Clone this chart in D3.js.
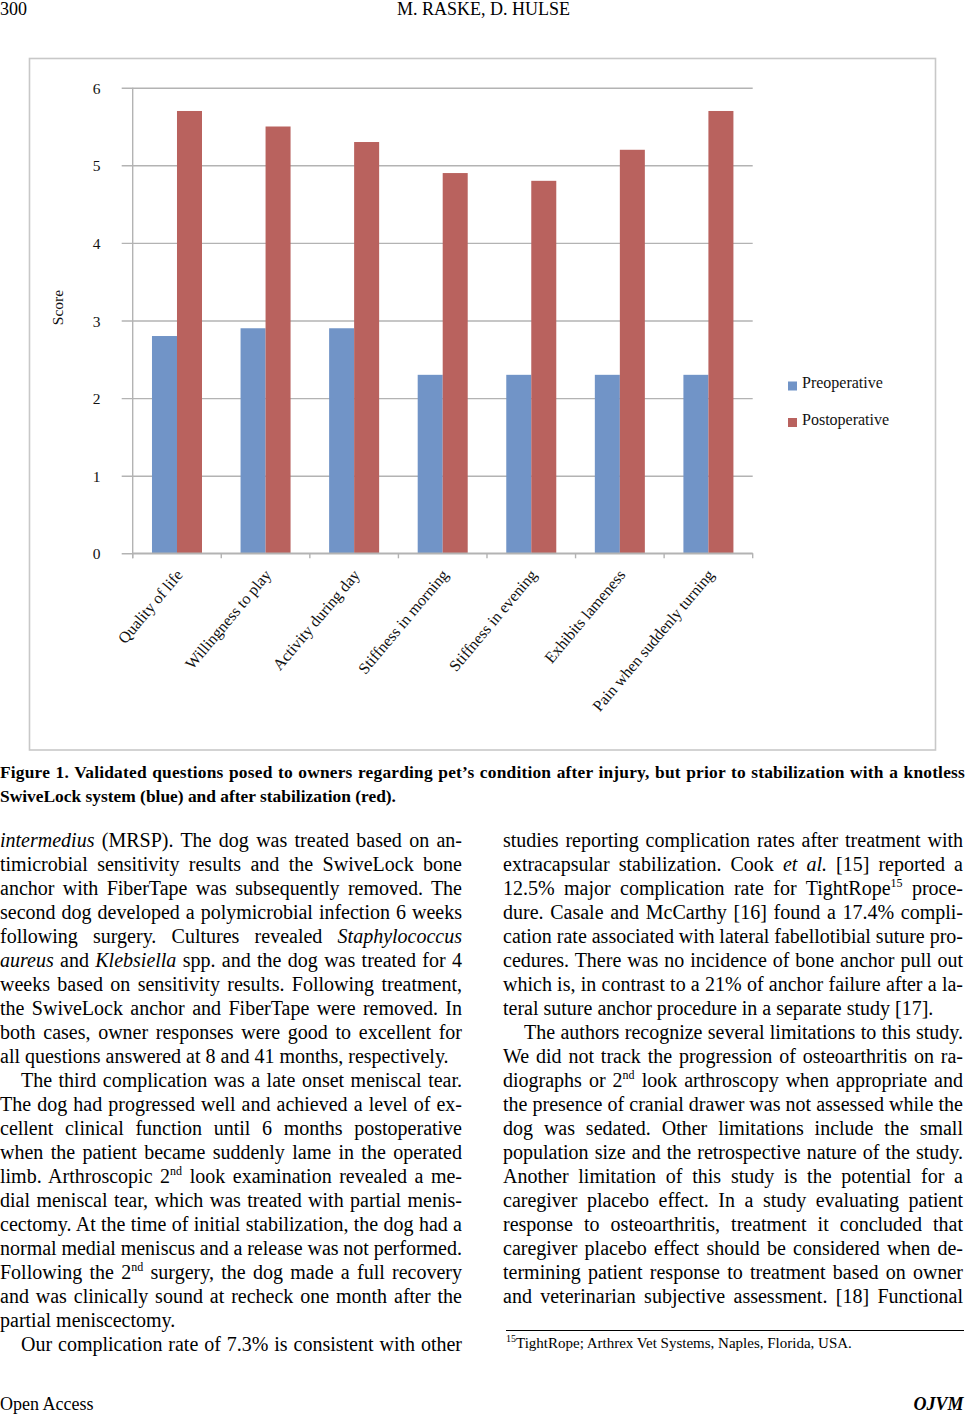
<!DOCTYPE html>
<html><head><meta charset="utf-8">
<script src="https://cdn.jsdelivr.net/npm/d3@7"></script>
<style>
html,body{margin:0;padding:0;background:#fff;}
body{width:966px;height:1414px;position:relative;overflow:hidden;font-family:"Liberation Serif","Times New Roman",serif;color:#000;}
.ln{position:absolute;white-space:nowrap;font-size:20px;line-height:24px;height:24px;}
sup{font-size:12px;line-height:0;vertical-align:8px;}
#chart{position:absolute;left:0;top:0;}
</style></head><body>
<svg id="chart" width="966" height="760"></svg>
<script>
// ---------- chart data ----------
const categories = ["Quality of life","Willingness to play","Activity during day","Stiffness in morning","Stiffness in evening","Exhibits lameness","Pain when suddenly turning"];
const seriesNames = ["Preoperative","Postoperative"];
const preoperative = [2.8,2.9,2.9,2.3,2.3,2.3,2.3];
const postoperative = [5.7,5.5,5.3,4.9,4.8,5.2,5.7];
const yTicks = [0,1,2,3,4,5,6];
const yLabel = "Score";
const colors = ["#7194c7","#b9625e"];

// ---------- page text ----------
const headerPage = "300";
const headerTitle = "M. RASKE, D. HULSE";
const captionLines = [
 "Figure 1. Validated questions posed to owners regarding pet’s condition after injury, but prior to stabilization with a knotless",
 "SwiveLock system (blue) and after stabilization (red)."
];
// [html, justify, indent]
const leftLines = [
 ["<i>intermedius</i> (MRSP). The dog was treated based on an-",1,0],
 ["timicrobial sensitivity results and the SwiveLock bone",1,0],
 ["anchor with FiberTape was subsequently removed. The",1,0],
 ["second dog developed a polymicrobial infection 6 weeks",1,0],
 ["following surgery. Cultures revealed <i>Staphylococcus</i>",1,0],
 ["<i>aureus</i> and <i>Klebsiella</i> spp. and the dog was treated for 4",1,0],
 ["weeks based on sensitivity results. Following treatment,",1,0],
 ["the SwiveLock anchor and FiberTape were removed. In",1,0],
 ["both cases, owner responses were good to excellent for",1,0],
 ["all questions answered at 8 and 41 months, respectively.",0,0],
 ["The third complication was a late onset meniscal tear.",1,1],
 ["The dog had progressed well and achieved a level of ex-",1,0],
 ["cellent clinical function until 6 months postoperative",1,0],
 ["when the patient became suddenly lame in the operated",1,0],
 ["limb. Arthroscopic 2<sup>nd</sup> look examination revealed a me-",1,0],
 ["dial meniscal tear, which was treated with partial menis-",1,0],
 ["cectomy. At the time of initial stabilization, the dog had a",1,0],
 ["normal medial meniscus and a release was not performed.",1,0],
 ["Following the 2<sup>nd</sup> surgery, the dog made a full recovery",1,0],
 ["and was clinically sound at recheck one month after the",1,0],
 ["partial meniscectomy.",0,0],
 ["Our complication rate of 7.3% is consistent with other",1,1]
];
const rightLines = [
 ["studies reporting complication rates after treatment with",1,0],
 ["extracapsular stabilization. Cook <i>et al.</i> [15] reported a",1,0],
 ["12.5% major complication rate for TightRope<sup>15</sup> proce-",1,0],
 ["dure. Casale and McCarthy [16] found a 17.4% compli-",1,0],
 ["cation rate associated with lateral fabellotibial suture pro-",1,0],
 ["cedures. There was no incidence of bone anchor pull out",1,0],
 ["which is, in contrast to a 21% of anchor failure after a la-",1,0],
 ["teral suture anchor procedure in a separate study [17].",0,0],
 ["The authors recognize several limitations to this study.",1,1],
 ["We did not track the progression of osteoarthritis on ra-",1,0],
 ["diographs or 2<sup>nd</sup> look arthroscopy when appropriate and",1,0],
 ["the presence of cranial drawer was not assessed while the",1,0],
 ["dog was sedated. Other limitations include the small",1,0],
 ["population size and the retrospective nature of the study.",1,0],
 ["Another limitation of this study is the potential for a",1,0],
 ["caregiver placebo effect. In a study evaluating patient",1,0],
 ["response to osteoarthritis, treatment it concluded that",1,0],
 ["caregiver placebo effect should be considered when de-",1,0],
 ["termining patient response to treatment based on owner",1,0],
 ["and veterinarian subjective assessment. [18] Functional",1,0]
];
const footnote = "<sup style=\"font-size:10px;vertical-align:6px\">15</sup>TightRope; Arthrex Vet Systems, Naples, Florida, USA.";
const footerLeft = "Open Access";
const footerRight = "OJVM";

// ---------- draw chart ----------
const FONT = "'Liberation Serif','Times New Roman',serif";
const svg = d3.select("#chart");
const plot = {left:132.7, right:752.7, top:87.7, bottom:553.3};

svg.append("rect").attr("x",29.5).attr("y",58.5).attr("width",906).attr("height",691.5)
  .attr("fill","#fff").attr("stroke","#c8c8c8").attr("stroke-width",1.6);

const x0 = d3.scaleBand().domain(categories).range([plot.left, plot.right]).padding(0);
const x1 = d3.scaleBand().domain(seriesNames).range([0, x0.bandwidth()]).paddingInner(0).paddingOuter(0.771);
const y = d3.scaleLinear().domain([0,6]).range([plot.bottom, plot.top]);

// y axis with gridlines
const stub = 11;
const gy = svg.append("g").attr("transform",`translate(${plot.left-stub},0)`)
  .call(d3.axisLeft(y).tickValues(yTicks).tickFormat(d3.format("d"))
    .tickSize(-(plot.right-plot.left+stub)).tickPadding(21.2));
gy.select(".domain").remove();
gy.selectAll(".tick line").attr("stroke","#b3b3b3").attr("stroke-width",1.4);
gy.selectAll(".tick text").attr("font-family",FONT).attr("font-size",15.5).attr("fill","#111").attr("dy","0.36em");

// vertical axis line
svg.append("line").attr("x1",plot.left).attr("x2",plot.left).attr("y1",plot.top).attr("y2",plot.bottom+5)
  .attr("stroke","#b3b3b3").attr("stroke-width",1.4);

// bars
const data = categories.map((c,i)=>({cat:c, vals:[preoperative[i], postoperative[i]]}));
const groups = svg.append("g").selectAll("g").data(data).join("g")
  .attr("transform",d=>`translate(${x0(d.cat)},0)`);
groups.selectAll("rect").data(d=>d.vals.map((v,j)=>({name:seriesNames[j], v, j})))
  .join("rect")
  .attr("x",d=>x1(d.name)).attr("width",x1.bandwidth())
  .attr("y",d=>y(d.v)).attr("height",d=>y(0)-y(d.v))
  .attr("fill",d=>colors[d.j]);

// x axis baseline and boundary ticks
svg.append("line").attr("x1",plot.left).attr("x2",plot.right).attr("y1",plot.bottom).attr("y2",plot.bottom)
  .attr("stroke","#b3b3b3").attr("stroke-width",1.4);
const bounds = categories.map(c=>x0(c)).concat([x0.range()[1]]);
svg.append("g").selectAll("line").data(bounds).join("line")
  .attr("x1",d=>d).attr("x2",d=>d).attr("y1",plot.bottom).attr("y2",plot.bottom+5)
  .attr("stroke","#b3b3b3").attr("stroke-width",1.4);

// x labels
const gx = svg.append("g").attr("transform",`translate(${x0.bandwidth()/2},${plot.bottom})`)
  .call(d3.axisBottom(d3.scalePoint().domain(categories).range([plot.left, plot.right-x0.bandwidth()])).tickSize(0));
gx.select(".domain").remove();
gx.selectAll(".tick text").attr("font-family",FONT).attr("font-size",16).attr("fill","#111")
  .attr("x",0).attr("y",0).attr("dy",0).attr("text-anchor","end")
  .attr("transform","translate(6,22) rotate(-50)");

// y label
svg.append("text").attr("transform",`translate(62.5,307.5) rotate(-90)`).attr("text-anchor","middle")
  .attr("font-family",FONT).attr("font-size",15.5).attr("fill","#111").text(yLabel);

// legend
const legY = [381.5, 418];
const leg = svg.append("g").selectAll("g").data(seriesNames).join("g")
  .attr("transform",(d,i)=>`translate(788,${legY[i]})`);
leg.append("rect").attr("width",9).attr("height",9).attr("fill",(d,i)=>colors[i]);
leg.append("text").attr("x",14).attr("y",6.5).attr("font-family",FONT).attr("font-size",16).attr("fill","#111").text(d=>d);

// ---------- page text ----------
function addLine(html, x, baseline, width, justify, opts={}) {
  const d = document.createElement("div");
  d.className = "ln";
  const fs = opts.size || 20;
  d.style.fontSize = fs+"px";
  if (opts.weight) d.style.fontWeight = opts.weight;
  if (opts.italic) d.style.fontStyle = "italic";
  d.style.left = x+"px";
  d.style.top = (baseline - 12 - fs*0.34)+"px";
  d.innerHTML = html;
  document.body.appendChild(d);
  if (justify) {
    const w = d.getBoundingClientRect().width;
    const txt = d.textContent;
    const spaces = (txt.match(/ /g)||[]).length;
    if (opts.mix) {
      const extra = width - w;
      d.style.letterSpacing = (extra*0.6/(txt.length-1))+"px";
      const w2 = d.getBoundingClientRect().width;
      if (spaces>0) d.style.wordSpacing = ((width - w2)/spaces)+"px";
    } else if (spaces>0) d.style.wordSpacing = ((width - w)/spaces)+"px";
  }
  if (opts.right) { const w = d.getBoundingClientRect().width; d.style.left = (x - w)+"px"; }
  if (opts.center) { const w = d.getBoundingClientRect().width; d.style.left = (x - w/2)+"px"; }
  return d;
}
addLine(headerPage, 0, 15, 0, 0, {size:18});
addLine(headerTitle, 483.5, 15, 0, 0, {size:18, center:1});
addLine(captionLines[0], 0, 777.5, 965, 1, {size:17.4, weight:"bold", mix:1});
addLine(captionLines[1], 0, 802, 0, 0, {size:17.4, weight:"bold"});
const indent = 21;
leftLines.forEach((l,i)=>addLine(l[0], 0 + (l[2]?indent:0), 847 + i*24, 462 - (l[2]?indent:0), l[1]));
rightLines.forEach((l,i)=>addLine(l[0], 503 + (l[2]?indent:0), 847 + i*24, 460 - (l[2]?indent:0), l[1]));
const rule = document.createElement("div");
rule.style.cssText = "position:absolute;left:506px;top:1329.5px;width:458px;height:0;border-top:1px solid #000;";
document.body.appendChild(rule);
addLine(footnote, 506, 1348, 0, 0, {size:15});
addLine(footerLeft, 0, 1410, 0, 0, {size:18});
addLine(footerRight, 963.5, 1410, 0, 0, {size:18, weight:"bold", italic:1, right:1});
</script>
</body></html>
